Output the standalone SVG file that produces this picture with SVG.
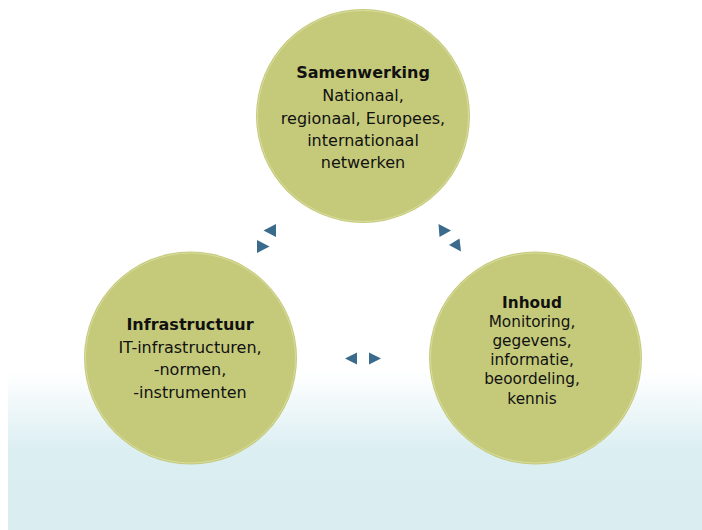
<svg xmlns="http://www.w3.org/2000/svg" width="702" height="530" viewBox="0 0 702 530">
<defs>
<linearGradient id="bg" x1="0" y1="0" x2="0" y2="1">
<stop offset="0" stop-color="#ffffff"/>
<stop offset="0.5" stop-color="#dbeef2"/>
<stop offset="1" stop-color="#daedf1"/>
</linearGradient>
</defs>
<style>
.c{fill:#c5ca7a;}
.ring{fill:none;stroke:#d8dc9e;stroke-width:1;}
.t{font-family:"DejaVu Sans",Verdana,sans-serif;fill:#111;text-anchor:middle;}
.b{font-weight:bold;}
.a{fill:#3b6b8c;}
</style>
<rect x="0" y="0" width="702" height="530" fill="#ffffff"/>
<rect x="8" y="372" width="694" height="158" fill="url(#bg)"/>
<g id="connectors">
<polygon class="a" points="263.5,230.5 276,224 276,237"/>
<polygon class="a" points="257,240 257,253 269.5,246.5"/>
<polygon class="a" points="438.5,224 439.5,237 451,230.5"/>
<polygon class="a" points="449,245 459.5,238.5 461,251.5"/>
<polygon class="a" points="345,358.5 357,352.5 357,364.5"/>
<polygon class="a" points="369,352.5 369,364.5 381,358.5"/>
</g>
<g id="samenwerking">
<circle class="c" cx="363" cy="116" r="107"/>
<circle class="ring" cx="363" cy="116" r="105.5"/>
<text class="t" font-size="16"><tspan class="b" x="363" y="78">Samenwerking</tspan><tspan x="363" y="101">Nationaal,</tspan><tspan x="363" y="123.5">regionaal, Europees,</tspan><tspan x="363" y="146">internationaal</tspan><tspan x="363" y="168">netwerken</tspan></text>
</g>
<g id="infrastructuur">
<circle class="c" cx="190.5" cy="358" r="106.5"/>
<circle class="ring" cx="190.5" cy="358" r="105"/>
<text class="t" font-size="16"><tspan class="b" x="190" y="330">Infrastructuur</tspan><tspan x="190" y="352.5">IT-infrastructuren,</tspan><tspan x="190" y="375">-normen,</tspan><tspan x="190" y="397.5">-instrumenten</tspan></text>
</g>
<g id="inhoud">
<circle class="c" cx="535.5" cy="358" r="106.5"/>
<circle class="ring" cx="535.5" cy="358" r="105"/>
<text class="t" font-size="15.3"><tspan class="b" x="532" y="307.5">Inhoud</tspan><tspan x="532" y="326.8">Monitoring,</tspan><tspan x="532" y="346">gegevens,</tspan><tspan x="532" y="365.2">informatie,</tspan><tspan x="532" y="384.4">beoordeling,</tspan><tspan x="532" y="403.6">kennis</tspan></text>
</g>
</svg>
